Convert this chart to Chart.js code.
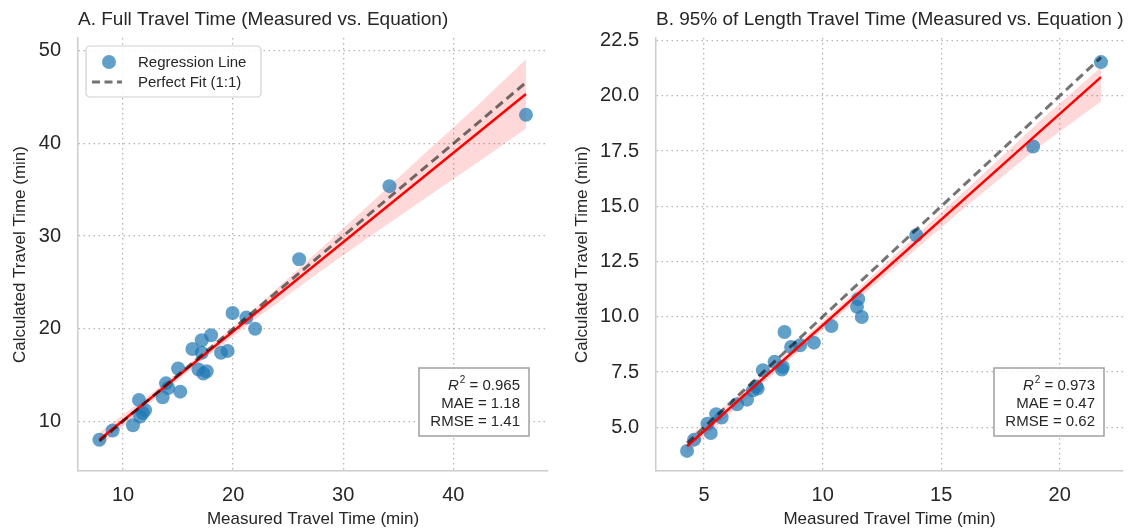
<!DOCTYPE html>
<html>
<head>
<meta charset="utf-8">
<script src="https://cdn.jsdelivr.net/npm/chart.js@4.4.1/dist/chart.umd.min.js"></script>
<style>
  html, body { margin: 0; padding: 0; background: #fff; }
  #wrap { position: relative; width: 1130px; height: 531px; }
  .panel { position: absolute; top: 0; width: 565px; height: 531px; }
</style>
</head>
<body>
<div id="wrap">
  <div class="panel" style="left:0"><canvas id="chartA"></canvas></div>
  <div class="panel" style="left:565px"><canvas id="chartB"></canvas></div>
</div>
<script>
// --- data ---
const leftMeasured   = [7.85, 9.06, 10.9, 11.45, 11.55, 12.0, 11.8, 13.6, 13.9, 14.1, 15.2, 15.0, 16.3, 17.15, 17.15, 16.85, 17.3, 17.6, 18.0, 18.9, 19.5, 19.95, 21.2, 22.0, 26.0, 34.2, 46.6];
const leftCalculated = [8.0, 9.0, 9.57, 12.3, 10.5, 11.2, 10.9, 12.6, 14.1, 13.6, 13.2, 15.7, 17.8, 18.75, 17.4, 15.6, 15.15, 15.4, 19.3, 17.4, 17.6, 21.7, 21.2, 20.0, 27.5, 35.4, 43.1];
const leftFitX  = [7.85, 46.6];
const leftFitY  = [8.0, 45.35];
const leftBandX  = [7.85, 12, 17, 22, 27, 32, 37, 42, 46.6];
const leftBandLo = [7.2, 11.5, 16.4, 21.0, 25.4, 29.6, 33.7, 37.8, 41.6];
const leftBandHi = [8.8, 12.5, 17.2, 22.2, 27.6, 33.0, 38.5, 43.9, 49.1];
const leftXTicks = [10, 20, 30, 40];
const leftYTicks = [10, 20, 30, 40, 50];
const leftStats  = ['0.965', '1.18', '1.41'];

const rightMeasured   = [4.28, 4.58, 5.28, 5.14, 5.51, 5.74, 6.39, 6.81, 7.06, 7.26, 7.2, 7.48, 7.97, 8.32, 8.28, 8.39, 8.67, 9.05, 9.63, 10.37, 11.5, 11.45, 11.65, 13.95, 18.88, 21.74];
const rightCalculated = [3.93, 4.44, 4.74, 5.16, 5.59, 5.44, 6.04, 6.25, 6.67, 6.75, 6.85, 7.58, 7.96, 7.73, 7.61, 9.31, 8.63, 8.71, 8.83, 9.58, 10.8, 10.45, 9.99, 13.69, 17.71, 21.53];
const rightFitX  = [4.28, 21.74];
const rightFitY  = [4.14, 20.85];
const rightBandX  = [4.28, 7, 10, 13, 16, 19, 21.74];
const rightBandLo = [3.8, 6.5, 9.4, 12.2, 14.95, 17.6, 19.75];
const rightBandHi = [4.5, 6.95, 9.8, 12.75, 15.7, 18.7, 21.3];
const rightXTicks = [5, 10, 15, 20];
const rightYTicks = [5, 7.5, 10, 12.5, 15, 17.5, 20, 22.5];
const rightStats  = ['0.973', '0.47', '0.62'];

const FONT = '"Liberation Sans", Arial, sans-serif';
const TXT = '#262626';
const PT_COLOR = 'rgba(31,119,180,0.7)';
const FIT_COLOR = '#ff0000';
const IDEAL_COLOR = 'rgba(0,0,0,0.55)';

const xy = (xs, ys) => xs.map((x, i) => ({ x: x, y: ys[i] }));

function extras(cfg) {
    return {
        id: 'extras',
        afterDraw(chart) {
            const ctx = chart.ctx;
            const area = chart.chartArea;
            ctx.save();

            // title
            ctx.font = '19px ' + FONT;
            ctx.fillStyle = TXT;
            ctx.textAlign = 'left';
            ctx.textBaseline = 'alphabetic';
            ctx.fillText(cfg.title, area.left, 25);

            // stats box
            const bw = 110, bh = 68;
            const bx = area.right - 19 - bw, by = 368;
            ctx.fillStyle = 'rgba(255,255,255,0.85)';
            ctx.fillRect(bx, by, bw, bh);
            ctx.strokeStyle = '#a0a0a0';
            ctx.lineWidth = 1.5;
            ctx.strokeRect(bx, by, bw, bh);

            const tx = bx + bw - 9;
            ctx.fillStyle = TXT;
            ctx.textAlign = 'right';
            ctx.font = '15px ' + FONT;
            const rest = ' = ' + cfg.stats[0];
            ctx.fillText(rest, tx, 390);
            let x = tx - ctx.measureText(rest).width;
            ctx.font = '10px ' + FONT;
            ctx.fillText('2', x, 383);
            x -= ctx.measureText('2').width + 1;
            ctx.font = 'italic 15px ' + FONT;
            ctx.fillText('R', x, 390);
            ctx.font = '15px ' + FONT;
            ctx.fillText('MAE = ' + cfg.stats[1], tx, 408);
            ctx.fillText('RMSE = ' + cfg.stats[2], tx, 426);

            // legend (first panel only)
            if (cfg.legend) {
                const lx = area.left + 8, ly = area.top + 8;
                ctx.beginPath();
                ctx.roundRect(lx, ly, 175, 51, 4);
                ctx.fillStyle = 'rgba(255,255,255,0.85)';
                ctx.fill();
                ctx.strokeStyle = '#d0d0d0';
                ctx.lineWidth = 1.2;
                ctx.stroke();

                ctx.beginPath();
                ctx.arc(lx + 23, ly + 16, 7, 0, Math.PI * 2);
                ctx.fillStyle = PT_COLOR;
                ctx.fill();

                ctx.beginPath();
                ctx.setLineDash([8, 4.5]);
                ctx.moveTo(lx + 6, ly + 36);
                ctx.lineTo(lx + 36, ly + 36);
                ctx.strokeStyle = IDEAL_COLOR;
                ctx.lineWidth = 3;
                ctx.stroke();
                ctx.setLineDash([]);

                ctx.fillStyle = TXT;
                ctx.textAlign = 'left';
                ctx.font = '15px ' + FONT;
                ctx.fillText('Regression Line', lx + 52, ly + 21);
                ctx.fillText('Perfect Fit (1:1)', lx + 52, ly + 41);
            }
            ctx.restore();
        }
    };
}

function axis(min, max, ticks, label, fmt, isY, titlePad) {
    return {
        type: 'linear',
        min: min,
        max: max,
        afterBuildTicks: (s) => { s.ticks = ticks.map(v => ({ value: v })); },
        afterFit: (s) => { if (isY) s.width = isY; else s.height = 60; },
        ticks: {
            font: { family: FONT, size: 20 },
            color: TXT,
            padding: isY ? 17 : 12,
            maxRotation: 0,
            callback: fmt
        },
        grid: { color: '#b5b5b5', lineWidth: 1.3, drawTicks: false },
        border: { display: true, color: '#cccccc', width: 1.5, dash: [1.5, 3.5] },
        title: {
            display: true,
            text: label,
            font: { family: FONT, size: 17 },
            color: TXT,
            padding: titlePad
        }
    };
}

function makeChart(id, c) {
    const pts = xy(c.mx, c.cy);
    new Chart(document.getElementById(id), {
        type: 'scatter',
        data: {
            datasets: [
                {
                    label: 'Perfect Fit (1:1)',
                    data: xy(c.fitX, c.fitX),
                    showLine: true, pointRadius: 0,
                    borderColor: IDEAL_COLOR, borderWidth: 3, borderDash: [9, 5],
                    order: 0
                },
                {
                    label: 'fit',
                    data: xy(c.fitX, c.fitY),
                    showLine: true, pointRadius: 0,
                    borderColor: FIT_COLOR, borderWidth: 2.5,
                    order: 1
                },
                {
                    label: 'Regression Line',
                    data: pts,
                    pointRadius: 7, pointHoverRadius: 7,
                    backgroundColor: PT_COLOR, borderColor: PT_COLOR, borderWidth: 0,
                    order: 2
                },
                {
                    label: 'lo',
                    data: xy(c.bandX, c.bandLo),
                    showLine: true, pointRadius: 0, borderWidth: 0,
                    borderColor: 'rgba(0,0,0,0)',
                    order: 3
                },
                {
                    label: 'hi',
                    data: xy(c.bandX, c.bandHi),
                    showLine: true, pointRadius: 0, borderWidth: 0,
                    borderColor: 'rgba(0,0,0,0)',
                    backgroundColor: 'rgba(255,0,0,0.15)',
                    fill: 3,
                    order: 4
                }
            ]
        },
        options: {
            responsive: true,
            maintainAspectRatio: false,
            animation: false,
            layout: { padding: { top: 38, right: c.padRight, bottom: 0, left: 0 } },
            plugins: {
                legend: { display: false },
                tooltip: { enabled: false },
                title: { display: false }
            },
            scales: {
                x: axis(c.xMin, c.xMax, c.xTicks, 'Measured Travel Time (min)', (v) => String(v), 0, { top: 4, bottom: 1 }),
                y: axis(c.yMin, c.yMax, c.yTicks, 'Calculated Travel Time (min)', c.yFmt, c.yWidth, { top: c.yTitlePad, bottom: 0 })
            }
        },
        plugins: [extras({ title: c.title, stats: c.stats, legend: c.legend })]
    });
}

makeChart('chartA', {
    mx: leftMeasured, cy: leftCalculated,
    fitX: leftFitX, fitY: leftFitY,
    bandX: leftBandX, bandLo: leftBandLo, bandHi: leftBandHi,
    xMin: 5.91, xMax: 48.6, yMin: 4.63, yMax: 51.4,
    xTicks: leftXTicks, yTicks: leftYTicks,
    yFmt: (v) => String(v),
    yWidth: 78, yTitlePad: 10, padRight: 17,
    title: 'A. Full Travel Time (Measured vs. Equation)',
    stats: leftStats, legend: true
});

makeChart('chartB', {
    mx: rightMeasured, cy: rightCalculated,
    fitX: rightFitX, fitY: rightFitY,
    bandX: rightBandX, bandLo: rightBandLo, bandHi: rightBandHi,
    xMin: 2.97, xMax: 22.67, yMin: 3.02, yMax: 22.62,
    xTicks: rightXTicks, yTicks: rightYTicks,
    yFmt: (v) => v.toFixed(1),
    yWidth: 91, yTitlePad: 7, padRight: 3,
    title: 'B. 95% of Length Travel Time (Measured vs. Equation )',
    stats: rightStats, legend: false
});
</script>
</body>
</html>
